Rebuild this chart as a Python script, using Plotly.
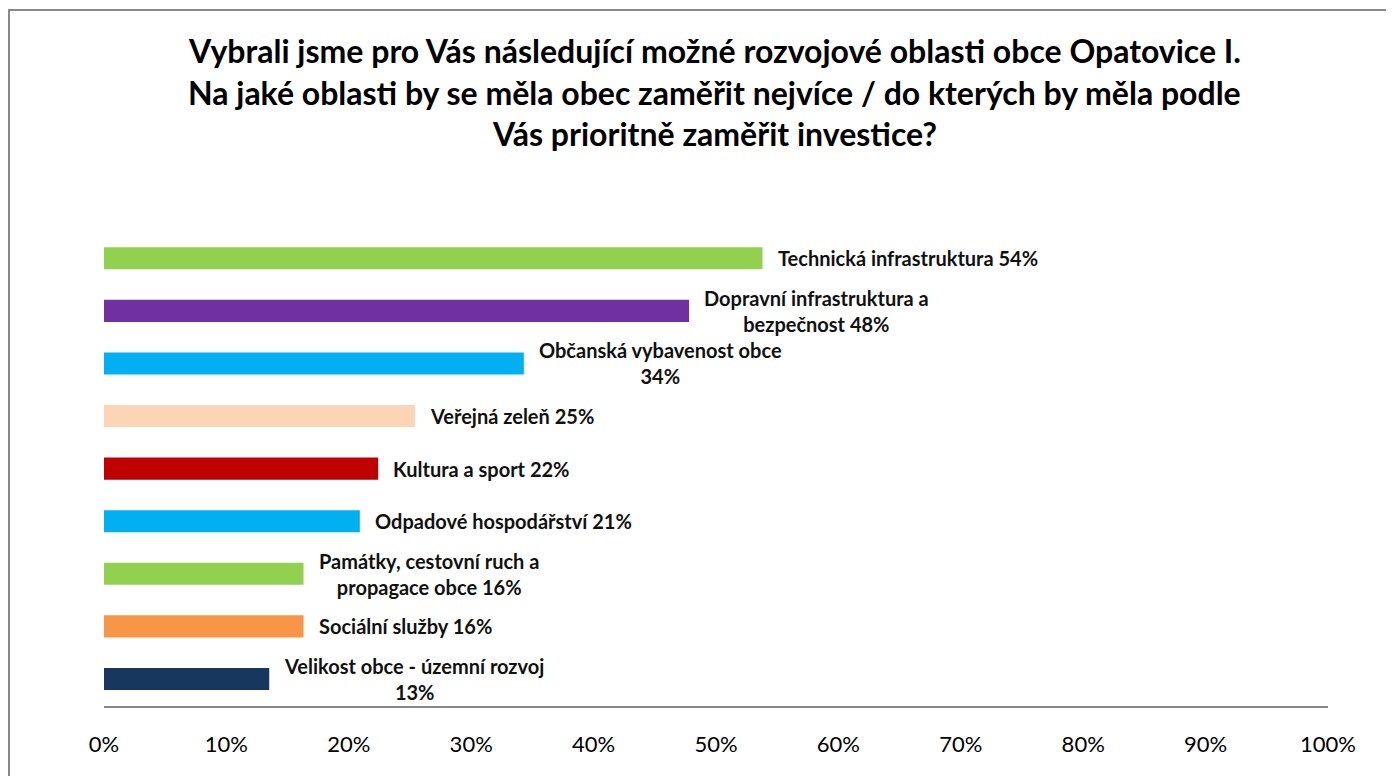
import plotly.graph_objects as go

categories = [
    "Technická infrastruktura",
    "Dopravní infrastruktura a bezpečnost",
    "Občanská vybavenost obce",
    "Veřejná zeleň",
    "Kultura a sport",
    "Odpadové hospodářství",
    "Památky, cestovní ruch a propagace obce",
    "Sociální služby",
    "Velikost obce - územní rozvoj",
]
values = [0.538, 0.478, 0.343, 0.254, 0.224, 0.209, 0.163, 0.163, 0.135]
label_texts = [
    "Technická infrastruktura 54%",
    "Dopravní infrastruktura a<br>bezpečnost 48%",
    "Občanská vybavenost obce<br>34%",
    "Veřejná zeleň 25%",
    "Kultura a sport 22%",
    "Odpadové hospodářství 21%",
    "Památky, cestovní ruch a<br>propagace obce 16%",
    "Sociální služby 16%",
    "Velikost obce - územní rozvoj<br>13%",
]
colors = ["#92D050", "#7030A0", "#00B0F0", "#FCD5B5", "#C00000",
          "#00B0F0", "#92D050", "#F79646", "#17375E"]
tick_vals = [i / 10 for i in range(11)]
tick_text = [f"{i * 10}%" for i in range(11)]
title_lines = [
    "Vybrali jsme pro Vás následující možné rozvojové oblasti obce Opatovice I.",
    "Na jaké oblasti by se měla obec zaměřit nejvíce / do kterých by měla podle",
    "Vás prioritně zaměřit investice?",
]

W, H = 1394, 776
L, R, T, B = 96, 74, 224, 78
plot_h = H - T - B
plot_w = W - L - R

def py(p):
    # p: pixel row in figure coordinates
    return (H - B - p) / plot_h

def px(p):
    return (p - L) / plot_w

fig = go.Figure()
fig.add_trace(go.Bar(
    x=values, y=categories, orientation="h",
    marker=dict(color=colors, line=dict(width=0)),
    hoverinfo="x+y",
))

annotations = []
for cat, val, txt in zip(categories, values, label_texts):
    annotations.append(dict(
        x=val, y=cat, xref="x", yref="y", text=txt, showarrow=False,
        xanchor="left", yanchor="middle", xshift=13, align="center",
        font=dict(family="Lato", size=20, color="#111111", weight="bold"),
    ))
for yy, line in zip([42, 84, 125], title_lines):
    annotations.append(dict(
        x=px(706), y=py(yy), xref="paper", yref="paper", text=line,
        showarrow=False, xanchor="center", yanchor="middle",
        font=dict(family="Lato", size=32, color="#000000", weight="bold"),
    ))

fig.update_layout(
    width=W, height=H,
    margin=dict(l=L, r=R, t=T, b=B, pad=0),
    paper_bgcolor="white", plot_bgcolor="white",
    bargap=0.58, showlegend=False,
    annotations=annotations,
    shapes=[dict(type="rect", xref="paper", yref="paper",
                 x0=px(1), x1=px(1420), y0=py(800), y1=py(2),
                 line=dict(color="#888888", width=2), layer="below")],
    xaxis=dict(range=[0, 1], tickvals=tick_vals, ticktext=tick_text,
               showgrid=False, zeroline=False, showline=True,
               linecolor="#888888", linewidth=2, ticks="",
               ticklabelstandoff=18,
               tickfont=dict(family="Lato", size=22, color="#000000")),
    yaxis=dict(autorange="reversed", showticklabels=False, showgrid=False,
               zeroline=False, showline=False, ticks=""),
)

fig.write_html("out.html")
